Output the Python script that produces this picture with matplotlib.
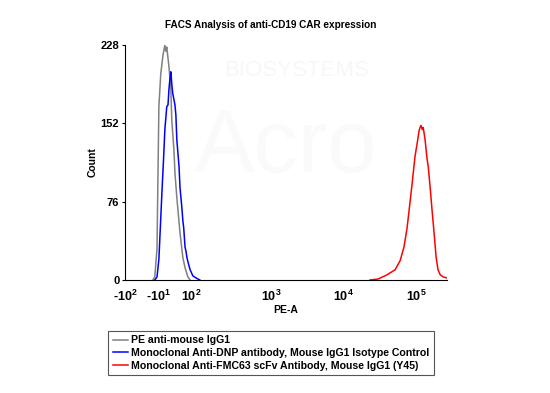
import matplotlib.pyplot as plt

# histogram data, x in display channels (0-1023), y in counts
gray_ch = [89, 95, 102, 108, 114, 121, 127, 130, 133, 140, 146, 149, 156, 159,
           165, 175, 181, 184, 191, 200, 207]
gray_cnt = [0, 3, 30, 168, 200, 218, 228, 222, 226, 207, 185, 155, 125, 104,
            80, 46, 30, 22, 12, 3, 0]

blue_ch = [95, 102, 108, 111, 118, 124, 127, 133, 137, 140, 143, 146, 149, 152,
           159, 162, 165, 172, 175, 181, 184, 187, 191, 194, 197, 200, 207, 216,
           226, 238]
blue_cnt = [0, 3, 20, 40, 87, 125, 146, 168, 170, 185, 195, 202, 190, 181,
            170, 160, 136, 110, 90, 70, 58, 50, 32, 28, 22, 18, 10, 4, 2, 0]

red_ch = [778, 804, 832, 858, 874, 886, 896, 905, 912, 921, 928, 934, 937, 940,
          944, 947, 953, 959, 963, 969, 975, 982, 988, 994, 1001, 1010, 1023]
red_cnt = [0, 1, 5, 10, 19, 32, 51, 75, 94, 120, 133, 145, 148, 150,
           146, 148, 136, 118, 110, 90, 68, 44, 22, 10, 5, 3, 2]

xtick_ch = [0, 105, 210, 464, 694, 925]
xtick_lab = [r'$\mathbf{\text{-}10^{2}}$', r'$\mathbf{\text{-}10^{1}}$', r'$\mathbf{10^{2}}$',
             r'$\mathbf{10^{3}}$', r'$\mathbf{10^{4}}$', r'$\mathbf{10^{5}}$']
yticks = [0, 76, 152, 228]

labels = ['PE anti-mouse IgG1',
          'Monoclonal Anti-DNP antibody, Mouse IgG1 Isotype Control',
          'Monoclonal Anti-FMC63 scFv Antibody, Mouse IgG1 (Y45)']

plt.rcParams['font.family'] = ['Liberation Sans', 'DejaVu Sans']
plt.rcParams['mathtext.fontset'] = 'custom'
plt.rcParams['mathtext.bf'] = 'Liberation Sans:bold'
plt.rcParams['mathtext.rm'] = 'Liberation Sans:bold'

fig = plt.figure(figsize=(5.5, 3.93), dpi=100)
ax = fig.add_axes([0.227, 0.2875, 0.586, 0.598])

# faint watermark
fig.text(0.54, 0.82, 'BIOSYSTEMS', fontsize=16, color='#f7f7f7',
         ha='center', va='center', zorder=0)
fig.text(0.52, 0.62, 'Acro', fontsize=64, color='#fafafa',
         ha='center', va='center', zorder=0)

ax.patch.set_alpha(0)
l1, = ax.plot(gray_ch, gray_cnt, color='#808080', lw=1.1)
l2, = ax.plot(blue_ch, blue_cnt, color='#0000ff', lw=1.1)
l3, = ax.plot(red_ch, red_cnt, color='#ff0000', lw=1.1)

ax.set_xlim(0, 1023)
ax.set_ylim(0, 228)
ax.spines['top'].set_visible(False)
ax.spines['right'].set_visible(False)
ax.set_xticks(xtick_ch)
ax.set_xticklabels(xtick_lab, fontsize=9)
ax.set_yticks(yticks)
ax.set_yticklabels([str(v) for v in yticks], fontsize=8, fontweight='bold')
ax.tick_params(axis='x', length=0, pad=6)
ax.tick_params(axis='y', length=2, pad=2)
ax.set_xlabel('PE-A', fontsize=7.5, fontweight='bold', labelpad=1)
ax.set_ylabel('Count', fontsize=7.5, fontweight='bold', labelpad=2)

fig.text(0.493, 0.937, 'FACS Analysis of anti-CD19 CAR expression',
         fontsize=7.2, fontweight='bold', ha='center', va='center')

leg = fig.legend([l1, l2, l3], labels, loc='upper left',
                 bbox_to_anchor=(0.187, 0.172),
                 prop={'weight': 'bold', 'size': 7.6},
                 handlelength=1.4, handletextpad=0.3, labelspacing=0.25,
                 borderpad=0.45, fancybox=False, framealpha=1)
leg.get_frame().set_edgecolor('#555555')
leg.get_frame().set_linewidth(0.8)

fig.savefig('out.png', dpi=100)
